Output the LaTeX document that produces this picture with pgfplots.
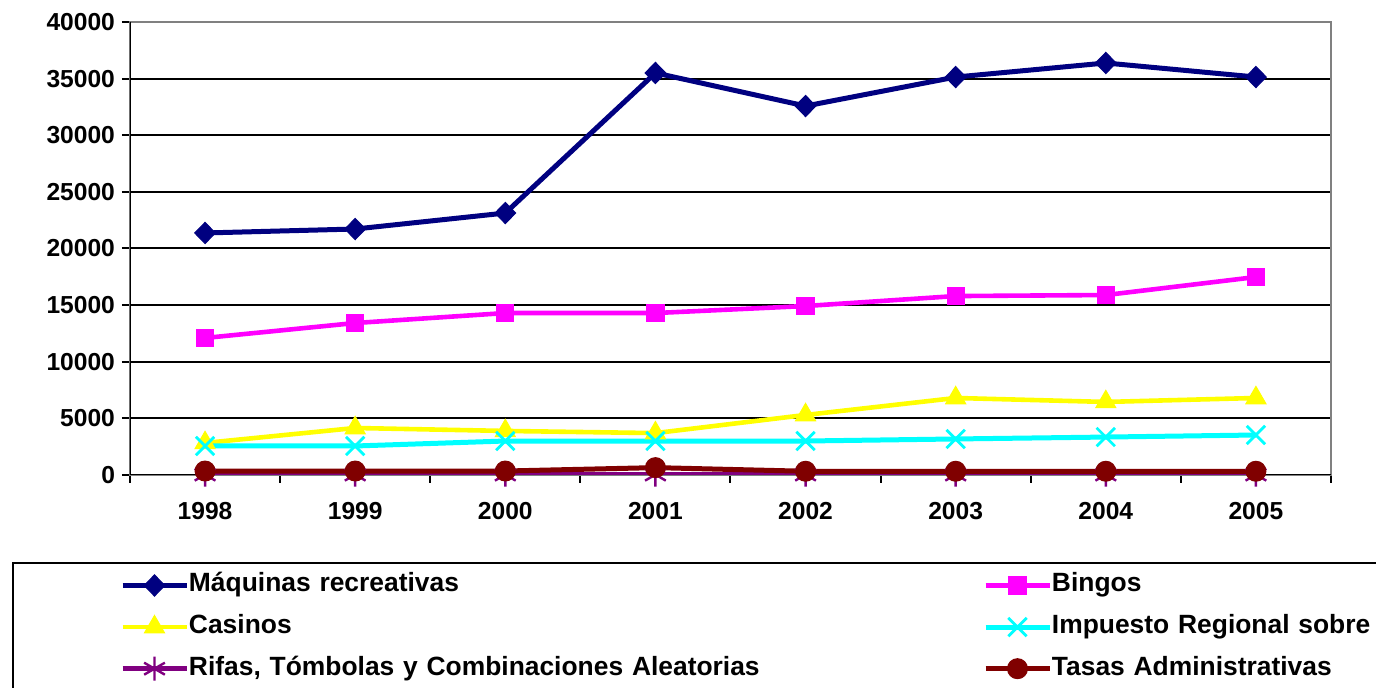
\documentclass[border=0pt]{standalone}
\usepackage{pgfplots}
\pgfplotsset{compat=1.18}
\usepackage{fontspec}
\setmainfont{Liberation Sans}
\definecolor{cNavy}{RGB}{0,0,128}
\definecolor{cMag}{RGB}{255,0,255}
\definecolor{cYel}{RGB}{255,255,0}
\definecolor{cCyan}{RGB}{0,255,255}
\definecolor{cPurp}{RGB}{128,0,128}
\definecolor{cMar}{RGB}{128,0,0}
\definecolor{cGray}{RGB}{128,128,128}
\begin{document}
\begin{tikzpicture}
\useasboundingbox (0,0) rectangle (688pt,344pt);
\begin{axis}[
  at={(65pt,106.5pt)}, anchor=south west,
  scale only axis, width=600.5pt, height=226.5pt,
  xmin=-0.5, xmax=7.5, ymin=0, ymax=40000,
  xtick={-0.5,0.5,...,7.5}, xticklabels={,,,,,,,,,},
  extra x ticks={0,1,2,3,4,5,6,7},
  extra x tick labels={1998,1999,2000,2001,2002,2003,2004,2005},
  extra x tick style={major tick length=0pt},
  xticklabel style={yshift=-10pt},
  ytick={0,5000,...,40000},
  scaled y ticks=false,
  tick pos=left,
  ymajorgrids, grid style={black, line width=1pt},
  tick align=outside, major tick length=4pt,
  tick style={black, line width=1pt},
  axis line style={draw=cGray, line width=1pt},
  /pgf/number format/assume math mode=true,
  /pgf/number format/1000 sep={},
  ticklabel style={font=\bfseries\fontsize{12.3}{14}\selectfont},
  legend image code/.code={\draw[mark repeat=2,mark phase=2] plot coordinates {(0pt,0pt) (16pt,0pt) (32pt,0pt)};},
  legend columns=2,
  legend style={at={(-0.09825,-0.19205)}, anchor=north west, draw=black, line width=1pt,
    font=\bfseries\fontsize{13.2}{15}\selectfont,
    column sep=0pt, row sep=8.3pt, inner xsep=53.5pt, inner ysep=5pt,
    nodes={inner xsep=0pt, inner ysep=0pt, text width=397pt, text height=9.5pt, text depth=3pt, align=left}},
]
\draw[cGray, line width=1pt] (rel axis cs:0,1) -- (rel axis cs:1,1) -- (rel axis cs:1,0);
\draw[black, line width=1pt] (rel axis cs:0,1) -- (rel axis cs:0,0) -- (rel axis cs:1,0);
\addplot[cNavy, line width=2.5pt, mark=diamond*, mark size=5.3pt, mark options={xscale=1.3, fill=cNavy, line width=0.5pt}] coordinates
 {(0,21370) (1,21720) (2,23130) (3,35500) (4,32580) (5,35140) (6,36380) (7,35140)};
\addlegendentry{Máquinas recreativas}
\addplot[cMag, line width=2.3pt, mark=square*, mark size=4.3pt, mark options={fill=cMag, line width=0.5pt}] coordinates
 {(0,12100) (1,13420) (2,14300) (3,14300) (4,14920) (5,15800) (6,15890) (7,17480)};
\addlegendentry{Bingos}
\addplot[cYel, line width=2.3pt, mark=triangle*, mark size=5.8pt, mark options={fill=cYel, line width=0.5pt}] coordinates
 {(0,2830) (1,4150) (2,3890) (3,3700) (4,5300) (5,6800) (6,6450) (7,6800)};
\addlegendentry{Casinos}
\addplot[cCyan, line width=2.5pt, mark=x, mark size=6.5pt, mark options={line width=1.4pt}] coordinates
 {(0,2560) (1,2560) (2,3000) (3,3000) (4,3000) (5,3180) (6,3350) (7,3530)};
\addlegendentry{Impuesto Regional sobre}
\addplot[cPurp, line width=2.5pt, mark=asterisk, mark size=6pt, mark options={line width=1.2pt}] coordinates
 {(0,30) (1,30) (2,30) (3,30) (4,30) (5,30) (6,30) (7,30)};
\addlegendentry{Rifas, Tómbolas y Combinaciones Aleatorias}
\addplot[cMar, line width=2.5pt, mark=*, mark size=5pt, mark options={fill=cMar, line width=0.5pt}] coordinates
 {(0,350) (1,350) (2,350) (3,650) (4,330) (5,330) (6,330) (7,330)};
\addlegendentry{Tasas Administrativas}
\end{axis}
\end{tikzpicture}
\end{document}
